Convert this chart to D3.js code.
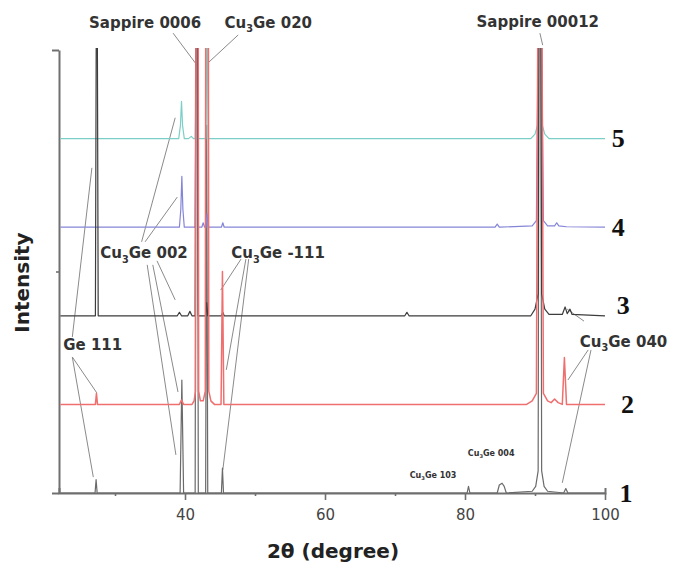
<!DOCTYPE html>
<html>
<head>
<meta charset="utf-8">
<script src="https://cdn.jsdelivr.net/npm/d3@7"></script>
<style>
  body { margin: 0; background: #fff; }
  svg { display: block; }
</style>
</head>
<body>
<svg width="681" height="566"></svg>
<script>
// XRD patterns, samples 1..5 stacked. points are [2theta, intensity above own baseline]
var sampleNames = ["1", "2", "3", "4", "5"];
var offsets = [0, 20, 40, 60, 80];
var colors = ["#6a6a6a", "#ef6f6f", "#3d3d3d", "#8585d8", "#7ccfc7"];

var trace1 = [[22.2,0],[27.15,0],[27.3,3],[27.45,0],[39.3,0],[39.55,25.5],[39.8,0],[41.45,0],[41.6,130],[41.75,130],[41.9,0],
  [42.95,0],[43.1,83],[43.25,0],[45.2,0],[45.35,5.6],[45.5,0],[80.3,0],[80.5,1.5],[80.7,0],[84.6,0],[84.9,1.8],[85.3,2.2],
  [85.6,1.5],[85.9,0],[89.6,0.4],[90.1,1.5],[90.45,5],[90.6,130],[90.8,130],[90.95,5],[91.3,1.5],[91.8,0.4],[94.1,0],[94.4,1],[94.7,0],[100,0]];

var trace2 = [[22.2,0],[27.2,0],[27.35,2.5],[27.5,0],[39.2,0],[39.5,1],[39.8,0],[41.0,0],[41.3,0.8],[41.5,3],[41.6,150],[41.85,150],
  [41.95,3],[42.2,0.8],[42.6,0.8],[42.9,3],[43.0,150],[43.3,150],[43.4,3],[43.7,0.8],[44.2,0],[45.15,0],[45.35,30],[45.55,0],
  [88.8,0],[89.6,0.8],[90.2,2.5],[90.55,150],[90.85,150],[91.2,2.5],[91.8,0.8],[92.3,0.4],[92.8,1.2],[93.3,0.4],[93.9,0],
  [94.2,10.6],[94.5,0],[100,0]];

var trace3 = [[22.2,0],[27.2,0],[27.35,80],[27.45,80],[27.6,0],[38.9,0],[39.2,0.8],[39.5,0],[40.4,0],[40.7,1],[41.0,0],[41.45,0],
  [41.6,100],[41.75,100],[41.9,0],[42.95,0],[43.1,3],[43.25,0],[45.2,0],[45.4,0.8],[45.6,0],[71.4,0],[71.7,0.8],[72.0,0],
  [89.4,0],[90.0,1.5],[90.45,5],[90.6,100],[90.8,100],[90.95,5],[91.4,1.5],[92.0,0.3],[93.9,0.3],[94.3,2],[94.6,0.5],[95.0,1.5],
  [95.3,0.3],[100,0]];

var trace4 = [[22.2,0],[39.2,0],[39.4,4],[39.55,11.5],[39.7,4],[39.9,0],[41.45,0],[41.6,60],[41.75,60],[41.9,0],[42.4,0],[42.6,1],
  [42.8,0],[43.0,0],[43.15,3],[43.3,0],[45.2,0],[45.4,1],[45.6,0],[84.3,0],[84.6,0.7],[84.9,0],[89.6,0.3],[90.2,1.5],[90.55,60],
  [90.85,60],[91.2,1.5],[91.8,0.3],[92.8,0.3],[93.1,1],[93.4,0.3],[94.5,0.1],[100,0]];

var trace5 = [[22.2,0],[39.1,0],[39.35,3],[39.5,8.4],[39.65,3],[39.9,0],[40.5,0],[40.9,0.5],[41.2,0],[41.45,0],[41.6,40],[41.75,40],
  [41.9,0],[43.0,0],[43.15,30],[43.3,0],[89.4,0],[90.0,1],[90.35,3],[90.55,40],[90.85,40],[91.05,3],[91.4,1],[92.0,0],[100,0]];

var traces = [trace1, trace2, trace3, trace4, trace5];
var drawOrder = [0, 4, 3, 2, 1];

var xTicks = [40, 60, 80, 100];
var xMinorTicks = [30, 50, 70, 90];

// peak labels: text, subscript part, rest, x, y, anchor, size
var peakLabels = [
  {pre: "Sappire 0006", sub: "", post: "", x: 34.3, y: 105, anchor: "middle", size: 15},
  {pre: "Cu", sub: "3", post: "Ge 020", x: 51.9, y: 105, anchor: "middle", size: 15},
  {pre: "Sappire 00012", sub: "", post: "", x: 90.4, y: 105.2, anchor: "middle", size: 15},
  {pre: "Cu", sub: "3", post: "Ge 002", x: 27.9, y: 53, anchor: "start", size: 15},
  {pre: "Cu", sub: "3", post: "Ge -111", x: 46.6, y: 53, anchor: "start", size: 15},
  {pre: "Ge 111", sub: "", post: "", x: 22.6, y: 32.3, anchor: "start", size: 15},
  {pre: "Cu", sub: "3", post: "Ge 040", x: 96.4, y: 33, anchor: "start", size: 15},
  {pre: "Cu", sub: "3", post: "Ge 103", x: 72.1, y: 3.4, anchor: "start", size: 8},
  {pre: "Cu", sub: "3", post: "Ge 004", x: 80.4, y: 8.4, anchor: "start", size: 8}
];

// leader lines [x1, y1, x2, y2] in data units
var leaders = [
  [38.3, 103.8, 41.7, 96.6],
  [47.6, 103.4, 43.3, 97.1],
  [90.7, 103.8, 91.1, 101.1],
  [33.8, 56.7, 38.6, 84.7],
  [34.3, 56.7, 38.9, 66.8],
  [36.0, 52.4, 38.6, 43.6],
  [35.4, 51.5, 39.0, 22.8],
  [34.6, 51.5, 38.7, 8.6],
  [48.0, 52.8, 45.1, 45.8],
  [48.7, 52.8, 45.9, 27.8],
  [49.1, 52.8, 45.4, 5.2],
  [23.9, 30.7, 27.4, 22.6],
  [23.9, 30.7, 26.9, 3.6],
  [23.9, 35.2, 26.7, 73.4],
  [97.6, 32.3, 94.7, 25.5],
  [98.0, 32.3, 93.9, 2.3],
  [94.6, 41.5, 97.0, 38.8]
];

var svg = d3.select("svg");

var x = d3.scaleLinear().domain([22, 100]).range([59, 605]);
var y = d3.scaleLinear().domain([0, 100]).range([493, 50]);

svg.append("defs").append("clipPath")
    .attr("id", "plotclip")
  .append("rect")
    .attr("x", x(22) - 1)
    .attr("y", y(100) - 2)
    .attr("width", x(100) - x(22) + 2)
    .attr("height", y(0) - y(100) + 3);

// axes
var axisColor = "#707070";

var xAxis = svg.append("g")
    .attr("transform", "translate(0," + y(0) + ")")
    .call(d3.axisBottom(x).tickValues(xTicks).tickSize(7).tickSizeOuter(-5).tickPadding(9));
xAxis.select(".domain").attr("stroke", axisColor).attr("stroke-width", 2);
xAxis.selectAll(".tick line").attr("stroke", axisColor).attr("stroke-width", 1.6);
xAxis.selectAll(".tick text")
    .attr("font-family", "DejaVu Sans")
    .attr("font-size", 15)
    .attr("fill", "#444");

var xMinor = svg.append("g")
    .attr("transform", "translate(0," + y(0) + ")")
    .call(d3.axisBottom(x).tickValues(xMinorTicks).tickSize(3).tickFormat(""));
xMinor.select(".domain").remove();
xMinor.selectAll(".tick line").attr("stroke", axisColor).attr("stroke-width", 1.6);

var yAxis = svg.append("g")
    .attr("transform", "translate(" + x(22) + ",0)")
    .call(d3.axisLeft(y).tickValues([0, 100]).tickSize(7).tickSizeOuter(0).tickFormat(""));
yAxis.select(".domain").attr("stroke", axisColor).attr("stroke-width", 2);
yAxis.selectAll(".tick line").attr("stroke", axisColor).attr("stroke-width", 2);

var yMinor = svg.append("g")
    .attr("transform", "translate(" + x(22) + ",0)")
    .call(d3.axisLeft(y).tickValues([50]).tickSize(3).tickFormat(""));
yMinor.select(".domain").remove();
yMinor.selectAll(".tick line").attr("stroke", axisColor).attr("stroke-width", 1.6);

svg.append("text")
    .attr("x", (x(22) + x(100)) / 2 + 1)
    .attr("y", 558)
    .attr("text-anchor", "middle")
    .attr("font-family", "DejaVu Sans")
    .attr("font-weight", "bold")
    .attr("font-size", 20)
    .attr("fill", "#222")
    .text("2\u03b8 (degree)");

svg.append("text")
    .attr("transform", "translate(29," + y(47.5) + ") rotate(-90)")
    .attr("text-anchor", "middle")
    .attr("font-family", "DejaVu Sans")
    .attr("font-weight", "bold")
    .attr("font-size", 20)
    .attr("fill", "#222")
    .text("Intensity");

// leader lines
svg.append("g").selectAll("line")
    .data(leaders)
    .enter().append("line")
    .attr("x1", function(d) { return x(d[0]); })
    .attr("y1", function(d) { return y(d[1]); })
    .attr("x2", function(d) { return x(d[2]); })
    .attr("y2", function(d) { return y(d[3]); })
    .attr("stroke", "#8a8a8a")
    .attr("stroke-width", 1);

// traces
var line = d3.line()
    .x(function(d) { return x(d[0]); })
    .y(function(d) { return y(d[1]); });

var plot = svg.append("g").attr("clip-path", "url(#plotclip)");

drawOrder.forEach(function(i) {
    var pts = traces[i].map(function(p) { return [p[0], p[1] + offsets[i]]; });
    plot.append("path")
        .datum(pts)
        .attr("fill", "none")
        .attr("stroke", colors[i])
        .attr("stroke-width", i === 1 ? 1.5 : 1.2)
        .attr("stroke-linejoin", "round")
        .attr("d", line);
});

// sample numbers at right end
var numberShift = [[3.0, 0], [3.2, 0], [2.6, 2.4], [1.9, 0], [1.9, 0]];
svg.append("g").selectAll("text")
    .data(sampleNames)
    .enter().append("text")
    .attr("x", function(d, i) { return x(100 + numberShift[i][0]); })
    .attr("y", function(d, i) { return y(offsets[i] + numberShift[i][1]); })
    .attr("dy", "0.33em")
    .attr("text-anchor", "middle")
    .attr("font-family", "Liberation Serif")
    .attr("font-weight", "bold")
    .attr("font-size", 26)
    .attr("fill", "#111")
    .text(function(d) { return d; });

// peak labels
var lab = svg.append("g").selectAll("text")
    .data(peakLabels)
    .enter().append("text")
    .attr("x", function(d) { return x(d.x); })
    .attr("y", function(d) { return y(d.y); })
    .attr("text-anchor", function(d) { return d.anchor; })
    .attr("font-family", "DejaVu Sans")
    .attr("font-weight", "bold")
    .attr("font-size", function(d) { return d.size; })
    .attr("fill", "#333");

lab.append("tspan").text(function(d) { return d.pre; });
lab.append("tspan")
    .attr("dy", function(d) { return d.sub ? d.size * 0.3 : 0; })
    .attr("font-size", function(d) { return d.size * 0.65; })
    .text(function(d) { return d.sub; });
lab.append("tspan")
    .attr("dy", function(d) { return d.sub ? -d.size * 0.3 : 0; })
    .text(function(d) { return d.post; });
</script>
</body>
</html>
